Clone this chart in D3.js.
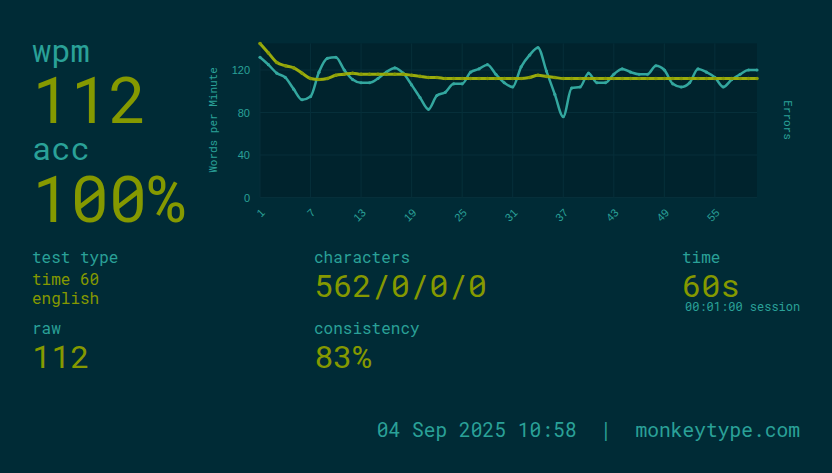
<!DOCTYPE html>
<html>
<head>
<meta charset="utf-8">
<script src="https://cdn.jsdelivr.net/npm/d3@7"></script>
<style>
  html, body { margin: 0; padding: 0; background: #002b36; }
  svg { display: block; font-family: "Roboto Mono", "DejaVu Sans Mono", monospace; }
  text { white-space: pre; }
</style>
</head>
<body>
<div id="svg-area"></div>
<script>
// per-second values
var seconds = d3.range(1, 61);
var wpm = [145, 136, 127, 124, 122, 117, 112, 111, 112, 115,
           116, 117, 116, 116, 116, 116, 116, 116, 115, 114,
           113, 113, 112, 112, 112, 112, 112, 112, 112, 112,
           112, 112, 113, 115, 114, 113, 112, 112, 112, 112,
           112, 112, 112, 112, 112, 112, 112, 112, 112, 112,
           112, 112, 112, 112, 112, 112, 112, 112, 112, 112];
var raw = [132, 125, 117, 113, 102, 92, 95, 118, 131, 132,
           120, 111, 108, 108, 112, 118, 122, 117, 106, 94,
           83, 96, 99, 107, 107, 118, 121, 125, 116, 108,
           104, 123, 134, 141, 119, 97, 76, 103, 104, 117,
           108, 108, 116, 121, 118, 116, 116, 124, 120, 107,
           104, 108, 121, 118, 113, 104, 111, 116, 120, 120];
var xTicks = [1, 7, 13, 19, 25, 31, 37, 43, 49, 55];
var yTicks = [0, 40, 80, 120];

// result stats
var stats = {
  wpm: "112", acc: "100%", testType: ["time 60", "english"], raw: "112",
  characters: "562/0/0/0", consistency: "83%", time: "60s",
  session: "00:01:00 session", footer: "04 Sep 2025 10:58  |  monkeytype.com"
};

var bg = "#002b36", main = "#859900", sub = "#2aa198";
var svgWidth = 832, svgHeight = 473;

var svg = d3.select("#svg-area").append("svg")
  .attr("width", svgWidth)
  .attr("height", svgHeight);

svg.append("rect").attr("width", svgWidth).attr("height", svgHeight).attr("fill", bg);

// chart
var x = d3.scaleLinear().domain([1, 60]).range([260, 757]);
var yMax = d3.max(wpm.concat(raw));
var y = d3.scaleLinear().domain([0, yMax]).range([197.5, 197.5 - yMax * 1.0625]);

var chartGroup = svg.append("g");

chartGroup.append("rect")
  .attr("x", x(1)).attr("y", y(yMax))
  .attr("width", x(60) - x(1)).attr("height", y(0) - y(yMax))
  .attr("fill", "#00232d");

chartGroup.append("g").selectAll("line").data(yTicks).join("line")
  .attr("x1", x(1)).attr("x2", x(60))
  .attr("y1", d => y(d)).attr("y2", d => y(d))
  .attr("stroke", "#062f3a").attr("stroke-width", 1);

chartGroup.append("g").selectAll("line").data(xTicks).join("line")
  .attr("x1", d => x(d)).attr("x2", d => x(d))
  .attr("y1", y(0)).attr("y2", y(yMax))
  .attr("stroke", "#062f3a").attr("stroke-width", 1);

var yAxis = d3.axisLeft(y).tickValues(yTicks).tickSize(0).tickPadding(10);
var gy = chartGroup.append("g").attr("transform", "translate(" + x(1) + ",0)").call(yAxis);
gy.select(".domain").remove();
gy.selectAll("text").attr("fill", sub).attr("font-size", 11).attr("font-family", null);

var xAxis = d3.axisBottom(x).tickValues(xTicks).tickSize(0).tickFormat(d3.format("d"));
var gx = chartGroup.append("g").attr("transform", "translate(0," + y(0) + ")").call(xAxis);
gx.select(".domain").remove();
gx.selectAll("text")
  .attr("fill", sub).attr("font-size", 11).attr("font-family", null)
  .attr("text-anchor", "end")
  .attr("dy", null).attr("y", 0)
  .attr("transform", "translate(5,16) rotate(-45)");

chartGroup.append("text")
  .attr("transform", "translate(217,120) rotate(-90)")
  .attr("text-anchor", "middle").attr("fill", sub).attr("font-size", 11)
  .text("Words per Minute");

chartGroup.append("text")
  .attr("transform", "translate(784,120) rotate(90)")
  .attr("text-anchor", "middle").attr("fill", sub).attr("font-size", 11)
  .text("Errors");

var line = d3.line()
  .x((d, i) => x(seconds[i]))
  .y(d => y(d))
  .curve(d3.curveMonotoneX);

chartGroup.append("path").attr("d", line(raw))
  .attr("fill", "none").attr("stroke", "#33a79f").attr("stroke-width", 2.5);
chartGroup.append("g").selectAll("circle").data(raw).join("circle")
  .attr("cx", (d, i) => x(seconds[i])).attr("cy", d => y(d)).attr("r", 1.6)
  .attr("fill", "#33a79f");

chartGroup.append("path").attr("d", line(wpm))
  .attr("fill", "none").attr("stroke", "#9aac0c").attr("stroke-width", 3);
chartGroup.append("g").selectAll("circle").data(wpm).join("circle")
  .attr("cx", (d, i) => x(seconds[i])).attr("cy", d => y(d)).attr("r", 1.8)
  .attr("fill", "#8a9c08");

// text blocks
function label(tx, ty, txt, size, color, anchor) {
  svg.append("text").attr("x", tx).attr("y", ty)
    .attr("font-size", size).attr("fill", color)
    .attr("text-anchor", anchor || "start")
    .attr("xml:space", "preserve")
    .text(txt);
}

label(32, 62, "wpm", 32, sub);
label(32, 123, stats.wpm, 64, main);
label(32, 160, "acc", 32, sub);
label(32, 222, stats.acc, 64, main);

label(32, 263, "test type", 16, sub);
label(32, 285, stats.testType[0], 16, main);
label(32, 304, stats.testType[1], 16, main);
label(32, 334, "raw", 16, sub);
label(32, 368, stats.raw, 32, main);

label(314, 263, "characters", 16, sub);
label(314, 297, stats.characters, 32, main);
label(314, 334, "consistency", 16, sub);
label(314, 368, stats.consistency, 32, main);

label(682, 263, "time", 16, sub);
label(682, 297, stats.time, 32, main);
label(685, 311, stats.session, 12, sub);

label(800, 437, stats.footer, 19.6, sub, "end");
</script>
</body>
</html>
